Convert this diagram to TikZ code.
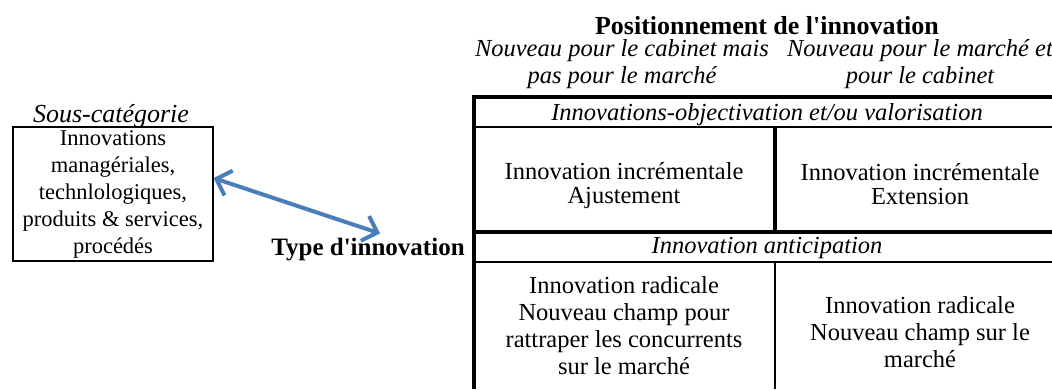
\documentclass[tikz,border=0pt]{standalone}
\usepackage{fontspec}
\setmainfont{Liberation Serif}
\usetikzlibrary{positioning,arrows.meta}
\definecolor{arrowblue}{RGB}{74,126,187}

\begin{document}
\begin{tikzpicture}[x=1pt,y=-1pt,
  cell/.style={align=center,inner sep=0pt,font=\fontsize{24.5}{27}\selectfont},
  rowlabel/.style={inner sep=0pt,anchor=base,font=\fontsize{24.5}{27}\selectfont\itshape},
  heavy/.style={line width=4pt},
  light/.style={line width=2.6pt},
  barb/.style={arrowblue,line width=4pt,{Straight Barb[length=13pt,width=26pt]}-{Straight Barb[length=13pt,width=26pt]}}]
  \useasboundingbox (0,0) rectangle (1052,389);
  % headings above the table
  \node[anchor=base,inner sep=0pt,font=\fontsize{26}{30}\selectfont\bfseries] (title) at (767,34) {Positionnement de l\textquotesingle innovation};
  \node[cell,font=\fontsize{24.5}{27}\selectfont\itshape] (colA) at (622,64.5) {Nouveau pour le cabinet mais\\pas pour le marché};
  \node[cell,font=\fontsize{24.5}{27}\selectfont\itshape] (colB) at (920,64.5) {Nouveau pour le marché et\\pour le cabinet};
  % table rules
  \draw[heavy] (474,97) -- (1052,97);
  \draw[heavy] (474,95) -- (474,389);
  \draw[light] (474,127) -- (1052,127);
  \draw[heavy] (474,232) -- (1052,232);
  \draw[light] (474,262) -- (1052,262);
  \draw[heavy] (775,127) -- (775,232);
  \draw[line width=2pt] (775,262) -- (775,389);
  % table texts
  \node[rowlabel] (objval) at (767,120) {Innovations-objectivation et/ou valorisation};
  \node[cell,font=\fontsize{24.5}{24}\selectfont] (ajust) at (624,186) {Innovation incrémentale\\Ajustement};
  \node[cell,font=\fontsize{24.5}{24}\selectfont] (ext) at (920,184) {Innovation incrémentale\\Extension};
  \node[rowlabel] (antic) at (767,253) {Innovation anticipation};
  \node[cell] (radA) at (624,326) {Innovation radicale\\Nouveau champ pour\\rattraper les concurrents\\sur le marché};
  \node[cell] (radB) at (920,332) {Innovation radicale\\Nouveau champ sur le\\marché};
  % left side
  \node[draw,line width=1.2pt,minimum width=200pt,minimum height=134pt,inner sep=0pt,align=center,
        font=\fontsize{22.5}{27}\selectfont] (sub) at (113,194)
        {Innovations\\managériales,\\technlologiques,\\produits \& services,\\procédés};
  \node[anchor=base,inner sep=0pt,font=\fontsize{26}{30}\selectfont\itshape] (souscat) at (111,122) {Sous-catégorie};
  \node[anchor=base,inner sep=0pt,font=\fontsize{25}{30}\selectfont\bfseries] (type) at (368,255) {Type d\textquotesingle innovation};
  \draw[barb] (sub.9) -- ([xshift=12pt,yshift=4pt]type.north);
\end{tikzpicture}
\end{document}
